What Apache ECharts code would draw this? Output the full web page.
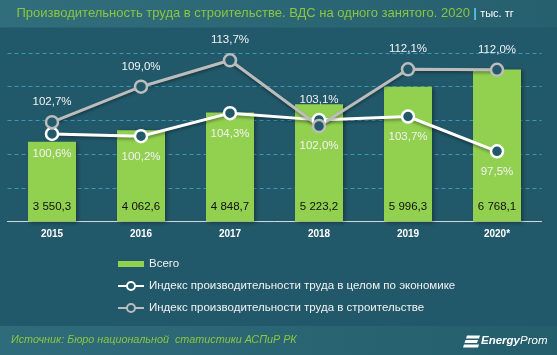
<!DOCTYPE html>
<html><head><meta charset="utf-8">
<script src="https://cdn.jsdelivr.net/npm/echarts@6/dist/echarts.min.js"></script>
<style>html,body{margin:0;padding:0;background:#22596a}#c{width:557px;height:355px}</style>
</head><body><div id="c"></div>
<script>
const categories = ['2015', '2016', '2017', '2018', '2019', '2020*'];
const totalValues = [3550.3, 4062.6, 4848.7, 5223.2, 5996.3, 6768.1];
const economyIndex = [100.6, 100.2, 104.3, 103.1, 103.7, 97.5];
const constructionIndex = [102.7, 109.0, 113.7, 102.0, 112.1, 112.0];
const seriesNames = ['Всего', 'Индекс производительности труда в целом по экономике', 'Индекс производительности труда в строительстве'];
const titleText = 'Производительность труда в строительстве. ВДС на одного занятого. 2020';
const unitText = 'тыс. тг';
const sourceText = 'Источник: Бюро национальной  статистики АСПиР РК';

const FONT = "'Liberation Sans', Arial, sans-serif";
const fmtNum = v => {
  const s = v.toFixed(1).split('.');
  return s[0].replace(/\B(?=(\d{3})+(?!\d))/g, ' ') + ',' + s[1];
};
const fmtPct = v => v.toFixed(1).replace('.', ',') + '%';

const pctLabel = (pos) => ({ show: true, position: pos, distance: 7, color: '#f2f2f2', fontSize: 11.5, fontFamily: FONT, formatter: p => fmtPct(p.value) });

const economyData = economyIndex.map((v, i) => i === 3 ? { value: v, label: { position: 'top' } } : v);
const constructionData = constructionIndex.map((v, i) => i === 3 ? { value: v, label: { position: 'bottom' } } : v);

const chart = echarts.init(document.getElementById('c'), null, { renderer: 'canvas' });
chart.setOption({
  backgroundColor: '#22596a',
  animation: false,
  textStyle: { fontFamily: FONT },
  grid: { left: 7.5, right: 15.5, top: 53, bottom: 133.4 },
  xAxis: {
    type: 'category', data: categories,
    axisLine: { lineStyle: { color: '#d8d8d8', width: 1 } },
    axisTick: { show: false },
    axisLabel: { color: '#ffffff', fontSize: 10, fontWeight: 'bold', fontFamily: FONT, margin: 8 }
  },
  yAxis: [
    { type: 'value', min: 0, max: 7500, interval: 1500,
      axisLabel: { show: false }, axisLine: { show: false }, axisTick: { show: false },
      splitLine: { lineStyle: { color: '#3a97b5', type: [4, 3], width: 1 } } },
    { type: 'value', min: 85, max: 115, interval: 5, show: false, splitLine: { show: false } }
  ],
  legend: {
    orient: 'vertical', left: 112, top: 253, itemWidth: 26, itemHeight: 10, itemGap: 10,
    textStyle: { color: '#f2f2f2', fontSize: 11.5, fontFamily: FONT },
    data: [
      { name: seriesNames[0], icon: 'path://M0 0H26V6H0Z' },
      { name: seriesNames[1] },
      { name: seriesNames[2] }
    ]
  },
  series: [
    { name: seriesNames[0], type: 'bar', data: totalValues, barWidth: 48,
      itemStyle: { color: '#92d050', shadowColor: 'rgba(0,0,0,0.35)', shadowBlur: 4, shadowOffsetX: 2, shadowOffsetY: 1 },
      label: { show: true, position: 'insideBottom', distance: 9, color: '#111', fontSize: 11.5, fontFamily: FONT, formatter: p => fmtNum(p.value) } },
    { name: seriesNames[1], type: 'line', yAxisIndex: 1, data: economyData,
      symbol: 'circle', symbolSize: 12,
      lineStyle: { color: '#ffffff', width: 3, shadowColor: 'rgba(0,0,0,0.35)', shadowBlur: 3, shadowOffsetY: 2 },
      itemStyle: { color: '#22596a', borderColor: '#ffffff', borderWidth: 2.5 },
      label: pctLabel('bottom') },
    { name: seriesNames[2], type: 'line', yAxisIndex: 1, data: constructionData,
      symbol: 'circle', symbolSize: 12,
      lineStyle: { color: '#bcbcbc', width: 3, shadowColor: 'rgba(0,0,0,0.35)', shadowBlur: 3, shadowOffsetY: 2 },
      itemStyle: { color: '#22596a', borderColor: '#bcbcbc', borderWidth: 2.5 },
      label: pctLabel('top') }
  ],
  graphic: [
    { type: 'rect', z: -10, shape: { x: 0, y: 0, width: 557, height: 27.5 },
      style: { fill: new echarts.graphic.LinearGradient(0, 0, 1, 0, [{ offset: 0, color: '#316e7c' }, { offset: 1, color: '#265f6e' }]) } },
    { type: 'rect', z: -10, shape: { x: 0, y: 326, width: 557, height: 29 },
      style: { fill: new echarts.graphic.LinearGradient(0, 0, 1, 0, [{ offset: 0, color: '#2f6c7b' }, { offset: 1, color: '#245e6d' }]) } },
    { type: 'text', left: 16.5, top: 7, z: 10,
      style: { text: '{t|' + titleText + '} {p||} {u|' + unitText + '}',
        rich: {
          t: { fill: '#8cc63f', fontSize: 13, fontFamily: FONT },
          p: { fill: '#5fc3e4', fontSize: 13, fontFamily: FONT, fontWeight: 'bold' },
          u: { fill: '#ffffff', fontSize: 11, fontFamily: FONT }
        } } },
    { type: 'text', left: 11, top: 334.5, z: 10,
      style: { text: sourceText, fill: '#8cc63f', fontSize: 10.8, fontStyle: 'italic', fontFamily: FONT } },
    { type: 'group', left: 463, top: 335.5, z: 10, children: [
      { type: 'polygon', shape: { points: [[3, 0], [16, 0], [15, 3], [2, 3]] }, style: { fill: '#fff' } },
      { type: 'polygon', shape: { points: [[1.5, 4.5], [14, 4.5], [13, 7.5], [0.5, 7.5]] }, style: { fill: '#fff' } },
      { type: 'polygon', shape: { points: [[0, 9], [15, 9], [14, 12], [-1, 12]] }, style: { fill: '#fff' } }
    ] },
    { type: 'text', left: 481, top: 335, z: 10,
      style: { text: '{a|Energy}{b|Prom}',
        rich: {
          a: { fill: '#fff', fontSize: 11.5, fontWeight: 'bold', fontStyle: 'italic', fontFamily: FONT },
          b: { fill: '#fff', fontSize: 11.5, fontStyle: 'italic', fontFamily: FONT }
        } } }
  ]
});
</script></body></html>
